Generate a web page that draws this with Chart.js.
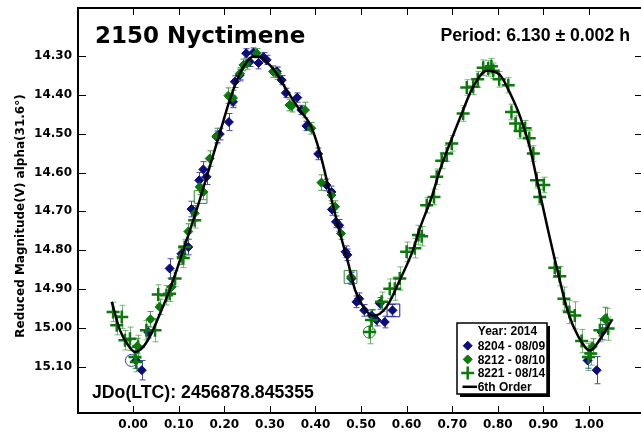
<!DOCTYPE html>
<html>
<head>
<meta charset="utf-8">
<script src="https://cdn.jsdelivr.net/npm/chart.js@4.4.1/dist/chart.umd.min.js"></script>
<style>
  html, body { margin: 0; padding: 0; background: #fff; overflow: hidden; }
</style>
</head>
<body>
<canvas id="lc" width="641" height="434"></canvas>
<script>
// tick values
const xTickValues = [0, 0.1, 0.2, 0.3, 0.4, 0.5, 0.6, 0.7, 0.8, 0.9, 1.0];
const yTickValues = [14.3, 14.4, 14.5, 14.6, 14.7, 14.8, 14.9, 15.0, 15.1];

// 8204 - 08/09
const phase8204 = [0.006, 0.019, 0.033, 0.080, 0.106, 0.121, 0.128, 0.145, 0.154, 0.161, 0.183, 0.190, 0.210, 0.219, 0.223, 0.234,
  0.248, 0.256, 0.264, 0.275, 0.286, 0.293, 0.315, 0.326, 0.335, 0.360, 0.369, 0.380, 0.406, 0.424, 0.435, 0.436, 0.445, 0.452,
  0.466, 0.470, 0.479, 0.490, 0.496, 0.507, 0.523, 0.534, 0.541, 0.552, 0.569, 0.997, 1.017, 1.028];
const mag8204 = [15.084, 15.109, 15.011, 14.847, 14.809, 14.792, 14.694, 14.620, 14.592, 14.611, 14.508, 14.501, 14.470, 14.418, 14.366, 14.349,
  14.293, 14.315, 14.291, 14.318, 14.303, 14.310, 14.340, 14.362, 14.395, 14.407, 14.439, 14.480, 14.552, 14.632, 14.650, 14.695, 14.727, 14.736,
  14.804, 14.812, 14.873, 14.933, 14.925, 14.955, 14.968, 14.980, 14.937, 14.985, 14.955, 15.084, 15.109, 15.011];
const err8204 = [0.02, 0.025, 0.015, 0.025, 0.02, 0.02, 0.02, 0.02, 0.02, 0.02, 0.015, 0.015, 0.022, 0.015, 0.015, 0.015,
  0.012, 0.012, 0.012, 0.015, 0.012, 0.012, 0.012, 0.012, 0.012, 0.012, 0.012, 0.012, 0.015, 0.015, 0.015, 0.015, 0.015, 0.015,
  0.015, 0.015, 0.015, 0.015, 0.015, 0.015, 0.015, 0.015, 0.015, 0.015, 0.015, 0.02, 0.035, 0.02];

// 8212 - 08/10
const phase8212 = [0.009, 0.038, 0.058, 0.084, 0.106, 0.121, 0.135, 0.146, 0.154, 0.168, 0.183, 0.209, 0.219, 0.234, 0.242, 0.249,
  0.271, 0.307, 0.315, 0.343, 0.348, 0.377, 0.391, 0.413, 0.435, 0.443, 0.456, 0.478, 1.008, 1.035];
const mag8212 = [15.047, 14.978, 14.946, 14.895, 14.817, 14.752, 14.705, 14.637, 14.650, 14.564, 14.506, 14.402, 14.408, 14.345, 14.323, 14.319,
  14.293, 14.340, 14.345, 14.426, 14.429, 14.439, 14.486, 14.626, 14.658, 14.688, 14.757, 14.869, 15.048, 14.977];
const err8212 = [0.02, 0.02, 0.02, 0.02, 0.02, 0.02, 0.02, 0.02, 0.02, 0.02, 0.02, 0.02, 0.02, 0.015, 0.015, 0.015,
  0.012, 0.015, 0.015, 0.015, 0.015, 0.02, 0.015, 0.02, 0.015, 0.015, 0.015, 0.015, 0.02, 0.03];

// 8221 - 08/14
const phase8221 = [-0.044, -0.036, -0.025, -0.018, -0.007, 0.004, 0.007, 0.011, 0.029, 0.048, 0.055, 0.073, 0.080, 0.092, 0.110, 0.113, 0.135,
  0.519, 0.523, 0.545, 0.563, 0.574, 0.585, 0.600, 0.618, 0.626, 0.633, 0.644, 0.660, 0.666, 0.677, 0.688, 0.699, 0.724, 0.732,
  0.746, 0.756, 0.768, 0.779, 0.786, 0.790, 0.803, 0.823, 0.830, 0.839, 0.849, 0.860, 0.869, 0.878, 0.885, 0.892, 0.901,
  0.925, 0.936, 0.945, 0.957, 0.969, 0.984, 0.999, 1.004, 1.024, 1.039, 1.042];
const mag8221 = [14.959, 14.993, 14.972, 15.032, 15.028, 15.075, 15.088, 15.049, 15.006, 15.006, 14.914, 14.916, 14.912, 14.873, 14.820, 14.792, 14.723,
  15.011, 14.980, 14.933, 14.899, 14.899, 14.873, 14.804, 14.795, 14.761, 14.764, 14.684, 14.663, 14.611, 14.570, 14.551, 14.525, 14.448, 14.381,
  14.379, 14.360, 14.330, 14.332, 14.326, 14.338, 14.360, 14.375, 14.444, 14.474, 14.493, 14.486, 14.512, 14.551, 14.620, 14.663, 14.632,
  14.845, 14.867, 14.925, 14.959, 14.968, 15.034, 15.075, 15.066, 15.006, 14.980, 15.002];
const err8221 = [0.025, 0.025, 0.03, 0.025, 0.03, 0.03, 0.025, 0.03, 0.025, 0.03, 0.025, 0.025, 0.02, 0.02, 0.025, 0.02, 0.02,
  0.03, 0.025, 0.025, 0.025, 0.03, 0.03, 0.025, 0.025, 0.025, 0.025, 0.02, 0.02, 0.02, 0.02, 0.02, 0.02, 0.02, 0.02,
  0.02, 0.02, 0.02, 0.02, 0.02, 0.02, 0.02, 0.02, 0.02, 0.02, 0.02, 0.02, 0.02, 0.02, 0.02, 0.02, 0.02,
  0.025, 0.025, 0.03, 0.03, 0.035, 0.03, 0.035, 0.03, 0.03, 0.03, 0.03];

// marked points (open squares / circles)
const squarePhase = [0.148, 0.477, 0.571];
const squareMag = [14.663, 14.869, 14.955];
const squareColor = ['#2e8b2e', '#2e8b2e', '#1c1c9c'];
const circlePhase = [-0.004, 0.518];
const circleMag = [15.084, 15.011];
const circleColor = ['#3c3ca8', '#2e8b2e'];

// 6th order fit
const fitPhase = [-0.047, -0.029, -0.011, 0.004, 0.022, 0.040, 0.059, 0.080, 0.110, 0.139, 0.168, 0.190, 0.212, 0.234, 0.250,
  0.263, 0.278, 0.293, 0.315, 0.337, 0.366, 0.390, 0.410, 0.432, 0.454, 0.472, 0.487, 0.505, 0.527, 0.556, 0.585, 0.614, 0.629,
  0.655, 0.673, 0.695, 0.721, 0.746, 0.776, 0.805, 0.827, 0.849, 0.870, 0.888, 0.907, 0.929, 0.955, 0.977, 1.002, 1.028, 1.050];
const fitMag = [14.933, 15.006, 15.045, 15.062, 15.049, 15.015, 14.963, 14.903, 14.800, 14.697, 14.585, 14.499, 14.413, 14.345, 14.314,
  14.302, 14.302, 14.315, 14.345, 14.388, 14.440, 14.480, 14.550, 14.655, 14.757, 14.834, 14.903, 14.946, 14.969, 14.946, 14.877, 14.800, 14.744,
  14.663, 14.594, 14.525, 14.448, 14.379, 14.338, 14.349, 14.396, 14.456, 14.534, 14.630, 14.731, 14.843, 14.963, 15.023, 15.058, 15.023, 14.980];

const NAVY = '#0c0c7a';
const GREEN = '#0a7a0a';
const BOLD = 'DejaVu Sans';

const pts = (xs, ys) => xs.map((x, i) => ({x: x, y: ys[i]}));

const decor = {
  id: 'decor',
  beforeDatasetsDraw(chart) {
    const ctx = chart.ctx, xs = chart.scales.x, ys = chart.scales.y;
    chart.data.datasets.forEach((ds) => {
      if (!ds.err) return;
      ctx.save();
      ctx.strokeStyle = ds.errColor;
      ctx.lineWidth = 1;
      ds.data.forEach((p, j) => {
        const px = Math.round(xs.getPixelForValue(p.x)) + 0.5;
        const y1 = ys.getPixelForValue(p.y - ds.err[j]);
        const y2 = ys.getPixelForValue(p.y + ds.err[j]);
        ctx.beginPath();
        ctx.moveTo(px, y1); ctx.lineTo(px, y2);
        ctx.moveTo(px - 3, y1); ctx.lineTo(px + 3, y1);
        ctx.moveTo(px - 3, y2); ctx.lineTo(px + 3, y2);
        ctx.stroke();
      });
      ctx.restore();
    });
  },
  afterDraw(chart) {
    const ctx = chart.ctx, a = chart.chartArea, xs = chart.scales.x, ys = chart.scales.y;
    ctx.save();
    // frame (right edge falls outside the picture)
    ctx.strokeStyle = '#000';
    ctx.lineWidth = 2;
    ctx.beginPath();
    ctx.moveTo(chart.width + 2, a.top); ctx.lineTo(a.left, a.top);
    ctx.lineTo(a.left, a.bottom); ctx.lineTo(chart.width + 2, a.bottom);
    ctx.stroke();
    // inward ticks
    ctx.lineWidth = 1;
    ctx.beginPath();
    xs.ticks.forEach(t => {
      const px = Math.round(xs.getPixelForValue(t.value)) + 0.5;
      ctx.moveTo(px, a.bottom); ctx.lineTo(px, a.bottom - 7);
      ctx.moveTo(px, a.top); ctx.lineTo(px, a.top + 7);
    });
    ys.ticks.forEach(t => {
      const py = Math.round(ys.getPixelForValue(t.value)) + 0.5;
      ctx.moveTo(a.left, py); ctx.lineTo(a.left + 8, py);
      ctx.moveTo(chart.width, py); ctx.lineTo(chart.width - 6, py);
    });
    ctx.stroke();

    // texts
    ctx.fillStyle = '#000';
    ctx.textBaseline = 'alphabetic';
    ctx.textAlign = 'left';
    ctx.font = 'bold 23px "' + BOLD + '"';
    ctx.fillText('2150 Nyctimene', 95, 43);
    ctx.font = 'bold 17.7px "Liberation Sans"';
    ctx.textAlign = 'right';
    ctx.fillText('Period: 6.130 \u00b1 0.002 h', 630, 41);
    ctx.textAlign = 'left';
    ctx.fillText('JDo(LTC): 2456878.845355', 92, 398);

    // y title
    ctx.save();
    ctx.translate(20.5, 216);
    ctx.rotate(-Math.PI / 2);
    ctx.textAlign = 'center';
    ctx.textBaseline = 'middle';
    ctx.font = 'bold 12px "' + BOLD + '"';
    ctx.fillText('Reduced Magnitude(V) alpha(31.6\u00b0)', 0, 0);
    ctx.restore();

    // legend box
    const lx = 457, ly = 323, lw = 90, lh = 71;
    ctx.fillStyle = '#000';
    ctx.fillRect(lx + 3, ly + 3, lw, lh);
    ctx.fillStyle = '#fff';
    ctx.fillRect(lx, ly, lw, lh);
    ctx.strokeStyle = '#000';
    ctx.lineWidth = 1.5;
    ctx.strokeRect(lx, ly, lw, lh);
    ctx.fillStyle = '#000';
    ctx.font = 'bold 12px "Liberation Sans"';
    ctx.textAlign = 'center';
    ctx.fillText('Year: 2014', 507.5, 335);
    ctx.textAlign = 'left';
    const rows = [
      {text: '8204 - 08/09', ds: 0},
      {text: '8212 - 08/10', ds: 1},
      {text: '8221 - 08/14', ds: 2},
      {text: '6th Order', ds: 3}
    ];
    rows.forEach((r, i) => {
      const cy = 345.7 + i * 13.7;
      const d = chart.data.datasets[r.ds];
      if (d.showLine) {
        ctx.strokeStyle = '#000';
        ctx.lineWidth = 2.5;
        ctx.beginPath();
        ctx.moveTo(462.5, cy); ctx.lineTo(477, cy);
        ctx.stroke();
      } else {
        ctx.fillStyle = d.backgroundColor;
        ctx.strokeStyle = d.borderColor;
        ctx.lineWidth = d.borderWidth;
        ctx.beginPath();
        if (d.pointStyle === 'cross') {
          ctx.moveTo(467.7 - d.pointRadius, cy); ctx.lineTo(467.7 + d.pointRadius, cy);
          ctx.moveTo(467.7, cy - d.pointRadius); ctx.lineTo(467.7, cy + d.pointRadius);
          ctx.stroke();
        } else {
          ctx.moveTo(467.7, cy - d.pointRadius); ctx.lineTo(467.7 + d.pointRadius, cy);
          ctx.lineTo(467.7, cy + d.pointRadius); ctx.lineTo(467.7 - d.pointRadius, cy);
          ctx.closePath(); ctx.fill(); ctx.stroke();
        }
      }
      ctx.fillStyle = '#000';
      ctx.fillText(r.text, 477.7, cy + 4.3);
    });
    ctx.restore();
  }
};

const ctx = document.getElementById('lc').getContext('2d');
const chart = new Chart(ctx, {
  type: 'scatter',
  data: {
    datasets: [
      {
        label: '8204 - 08/09', data: pts(phase8204, mag8204), err: err8204, errColor: '#4848a8',
        pointStyle: 'rectRot', pointRadius: 4.5, borderWidth: 1, backgroundColor: NAVY, borderColor: NAVY, order: 3
      },
      {
        label: '8212 - 08/10', data: pts(phase8212, mag8212), err: err8212, errColor: '#48a048',
        pointStyle: 'rectRot', pointRadius: 4.5, borderWidth: 1, backgroundColor: GREEN, borderColor: GREEN, order: 2
      },
      {
        label: '8221 - 08/14', data: pts(phase8221, mag8221), err: err8221, errColor: 'rgba(40,150,40,0.65)',
        pointStyle: 'cross', pointRadius: 6.5, borderWidth: 2.5, backgroundColor: GREEN, borderColor: GREEN, order: 1
      },
      {
        label: '6th Order', type: 'line', data: pts(fitPhase, fitMag), showLine: true,
        borderColor: '#000', borderWidth: 2.5, pointRadius: 0, cubicInterpolationMode: 'monotone', fill: false, order: 0
      },
      {
        label: 'marked', data: pts(squarePhase, squareMag), pointStyle: 'rect', pointRadius: 9,
        borderWidth: 1, backgroundColor: 'rgba(0,0,0,0)', borderColor: squareColor, order: 4
      },
      {
        label: 'marked2', data: pts(circlePhase, circleMag), pointStyle: 'circle', pointRadius: 6,
        borderWidth: 1, backgroundColor: 'rgba(0,0,0,0)', borderColor: circleColor, order: 4
      }
    ]
  },
  options: {
    responsive: false,
    animation: false,
    devicePixelRatio: 1,
    layout: { autoPadding: false, padding: { top: 8, right: 0, left: 0, bottom: 0 } },
    plugins: { legend: { display: false }, tooltip: { enabled: false } },
    scales: {
      x: {
        type: 'linear', min: -0.121, max: 1.1142,
        afterBuildTicks: s => { s.ticks = xTickValues.map(v => ({value: v})); },
        afterFit: s => { s.height = 21; s.paddingLeft = 0; s.paddingRight = 0; },
        grid: { display: false, drawTicks: false },
        border: { display: false },
        ticks: {
          callback: v => v.toFixed(2), color: '#000', padding: 5, maxRotation: 0, autoSkip: false,
          font: { family: BOLD, weight: 'bold', size: 12 }
        }
      },
      y: {
        type: 'linear', reverse: true, min: 14.1763, max: 15.2193,
        afterBuildTicks: s => { s.ticks = yTickValues.map(v => ({value: v})); },
        afterFit: s => { s.width = 78; s.paddingTop = 0; s.paddingBottom = 0; },
        grid: { display: false, drawTicks: false },
        border: { display: false },
        ticks: {
          callback: v => v.toFixed(2), color: '#000', padding: 6, autoSkip: false,
          font: { family: BOLD, weight: 'bold', size: 12 }
        }
      }
    }
  },
  plugins: [decor]
});
</script>
</body>
</html>
